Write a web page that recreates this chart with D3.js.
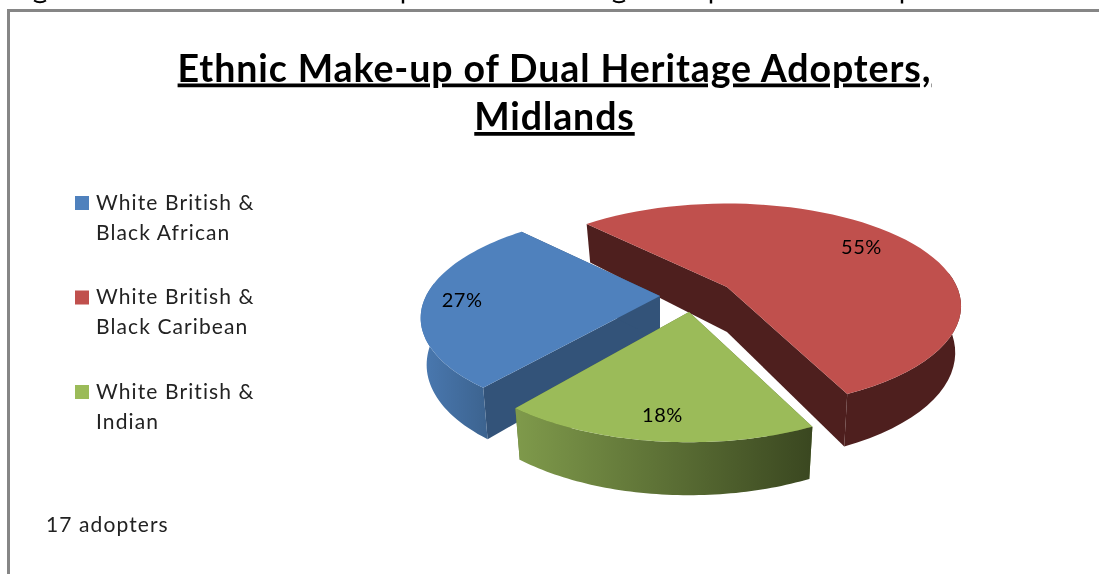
<!DOCTYPE html>
<html><head><meta charset="utf-8">
<script src="https://cdn.jsdelivr.net/npm/d3@7/dist/d3.min.js"></script>
<style>html,body{margin:0;padding:0;background:#fff}svg{display:block;filter:blur(0.45px)}text{font-family:Lato,"Open Sans",sans-serif}</style>
</head><body><div id="c"></div>
<script>
const categories = ["White British & Black African","White British & Black Caribean","White British & Indian"];
const legendLines = [["White British &","Black African"],["White British &","Black Caribean"],["White British &","Indian"]];
const values = [27,55,18];
const topColors = ["#4F81BD","#C0504D","#9BBB59"];
const wallColors = ["#335379","#4E1F1E","#5f7536"];
const titleLines = ["Ethnic Make-up of Dual Heritage Adopters,","Midlands"];
const note = "17 adopters";

const W=1099,H=574;
const svg=d3.select("#c").append("svg").attr("width",W).attr("height",H);
const defs=svg.append("defs");

// frame
svg.append("path").attr("d","M8.5,574V10.5H1099").attr("fill","none").attr("stroke","#868686").attr("stroke-width",3);

// descender tips of the cropped document line above the frame (unreadable in the reference)
[[40,"g"],[403,"p"],[619,"g"],[711,"p"],[902,"p"]].forEach(([x,t])=>{
  svg.append("path").attr("d",t==="g"?`M${x-6},0.5Q${x},4 ${x+6},0.5`:`M${x},0V3.5`)
    .attr("fill","none").attr("stroke","#000").attr("stroke-width",t==="g"?2:2.4);
});

// title
titleLines.forEach((t,i)=>{
  svg.append("text").attr("x",554.5).attr("y",[81.5,130][i]).attr("text-anchor","middle")
   .attr("font-size",37.5).attr("font-weight",700).attr("letter-spacing",0.9).attr("text-decoration","underline").attr("fill","#000").text(t);
});

// legend
const legY=d3.scalePoint().domain(categories).range([203,392]);
const leg=svg.append("g").selectAll("g").data(categories).join("g");
leg.append("rect").attr("x",75).attr("y",d=>legY(d)-7).attr("width",14).attr("height",14).attr("fill",(d,i)=>topColors[i]);
leg.each(function(d,i){
  legendLines[i].forEach((l,j)=>{
    d3.select(this).append("text").attr("x",96).attr("y",legY(d)+6.5+j*30).attr("font-size",21).attr("letter-spacing",1.1).attr("fill","#222").text(l);
  });
});
svg.append("text").attr("x",46).attr("y",532).attr("font-size",21).attr("letter-spacing",1.1).attr("fill","#222").text(note);

// pie layout, projected with a simple perspective
const pie=d3.pie().sort(null).startAngle(219*Math.PI/180).endAngle((219+360)*Math.PI/180);
const arcs=pie(values);
// per-slice placement of the exploded 3-D pie
const centers=[[660,296],[727,287],[689,312]];
const radiiX=[234,230,236], radiiY=[101,99,106], skews=[-6,0,0], labelR=[0.84,0.77,0.83];
const k=0.186, depth=45, shrink=0.975;
function proj(a,r,i){
  const c=centers[i], u=Math.sin(a)*r, v=-Math.cos(a)*r, s=1/(1-k*v);
  return [c[0]+radiiX[i]*u*s+skews[i]*v, c[1]+radiiY[i]*v*s, v];
}
function lower(p,i){
  const c=centers[i];
  return [c[0]+(p[0]-c[0])*shrink, c[1]+(p[1]-c[1])*shrink+depth*(1+0.25*p[2]), p[2]];
}
const line=d3.line();
const arcPts=(a0,a1,i)=>d3.range(0,61).map(j=>proj(a0+(a1-a0)*j/60,1,i));

const pieG=svg.append("g");
const order=[1,0,2];
const grads=[
 [["0%","#4a79b1"],["100%","#3c638f"]],
 [["0%","#4E1F1E"],["100%","#4E1F1E"]],
 [["0%","#7f9a4b"],["100%","#3a4720"]]
];
grads.forEach((g,i)=>{
  const lg=defs.append("linearGradient").attr("id","w"+i);
  g.forEach(s=>lg.append("stop").attr("offset",s[0]).attr("stop-color",s[1]));
});
order.forEach(i=>{
  const d=arcs[i],c=centers[i];
  const pts=arcPts(d.startAngle,d.endAngle,i);
  const ctr=[c[0],c[1],0], ctrB=lower(ctr,i);
  const g=pieG.append("g");
  [pts[0],pts[pts.length-1]].forEach(e=>{
    g.append("path").attr("d",line([ctr,e,lower(e,i),ctrB].map(p=>p.slice(0,2)))+"Z").attr("fill",wallColors[i]);
  });
  const vis=pts.filter(p=>p[2]>-0.15);
  const wall=vis.concat(vis.slice().reverse().map(p=>lower(p,i))).map(p=>p.slice(0,2));
  g.append("path").attr("d",line(wall)+"Z").attr("fill","url(#w"+i+")");
  g.append("path").attr("d",line([ctr].concat(pts).map(p=>p.slice(0,2)))+"Z").attr("fill",topColors[i]);
});
order.forEach(i=>{
  const d=arcs[i], m=(d.startAngle+d.endAngle)/2, p=proj(m,labelR[i],i);
  pieG.append("text").attr("x",p[0]).attr("y",p[1]+7).attr("text-anchor","middle")
    .attr("font-size",20).attr("letter-spacing",0.5).attr("fill","#000").text(values[i]+"%");
});
</script></body></html>
